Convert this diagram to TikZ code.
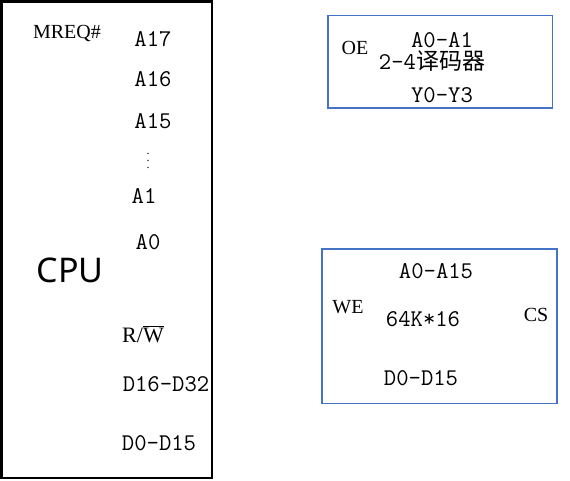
\documentclass[tikz,border=0pt]{standalone}
\usepackage{fontspec}
\setmainfont{Liberation Serif}
\newfontfamily\cjkfont{Noto Sans CJK SC}
\newfontfamily\cpufont{Noto Sans}
\usepackage{xcolor}
\definecolor{chipblue}{RGB}{68, 114, 196}
\tikzset{
  % Boxes
  cpubox/.style  = {draw=black, line width=2.2pt},
  chipbox/.style = {draw=chipblue, line width=1.6pt},
  % Labels
  pinlab/.style  = {font=\ttfamily\fontsize{24}{28}\selectfont, inner sep=0pt},
  siglab/.style  = {font=\fontsize{20}{24}\selectfont, inner sep=0pt},
  cpulab/.style  = {font=\cpufont\fontsize{34}{40}\selectfont, inner sep=0pt},
}

\begin{document}
\begin{tikzpicture}[x=1pt, y=-1pt]
  \useasboundingbox (0,0) rectangle (570,480);
  % CPU
  \draw[cpubox] (1.5,1.5) rectangle (212,478);
  \node[cpulab] (cpu) at (70,270) {CPU};
  \node[siglab] (mreq) at (67,33) {MREQ\#};
  \node[pinlab] (a17) at (153,39.5) {A17};
  \node[pinlab] (a16) at (153,79.5) {A16};
  \node[pinlab] (a15) at (153,121) {A15};
  \node[font=\fontsize{12}{14}\selectfont, inner sep=0pt] (dots) at (148,161)
    {\vbox{\baselineskip=7pt\hbox{.}\hbox{.}\hbox{.}}};
  \node[pinlab] (a1) at (144,196) {A1};
  \node[pinlab] (a0) at (148,242) {A0};
  \node[siglab, font=\fontsize{22}{26}\selectfont] (rw) at (143,334) {R/$\overline{\hbox{W}}$};
  \node[pinlab] (dhi) at (166,384.5) {D16-D32};
  \node[pinlab] (dlo) at (159,443.5) {D0-D15};
  % 2-4 dekoder
  \draw[chipbox] (328,15.5) rectangle (552.5,108);
  \node[siglab] (oe) at (355,48) {OE};
  \node[pinlab] (din) at (442,40.5) {A0-A1};
  \node[pinlab, text height=15pt, text depth=3pt] (dec) at (432,63)
    {2-4\cjkfont\fontsize{23}{27}\selectfont 译码器};
  \node[pinlab] (dout) at (442,95) {Y0-Y3};
  % Xotira 64K*16
  \draw[chipbox] (322,249) rectangle (557,403.5);
  \node[pinlab] (maddr) at (436,271) {A0-A15};
  \node[siglab] (we) at (348,307) {WE};
  \node[pinlab] (mem) at (423,319) {64K*16};
  \node[siglab] (cs) at (536,315) {CS};
  \node[pinlab] (mdata) at (421,378) {D0-D15};
\end{tikzpicture}
\end{document}
